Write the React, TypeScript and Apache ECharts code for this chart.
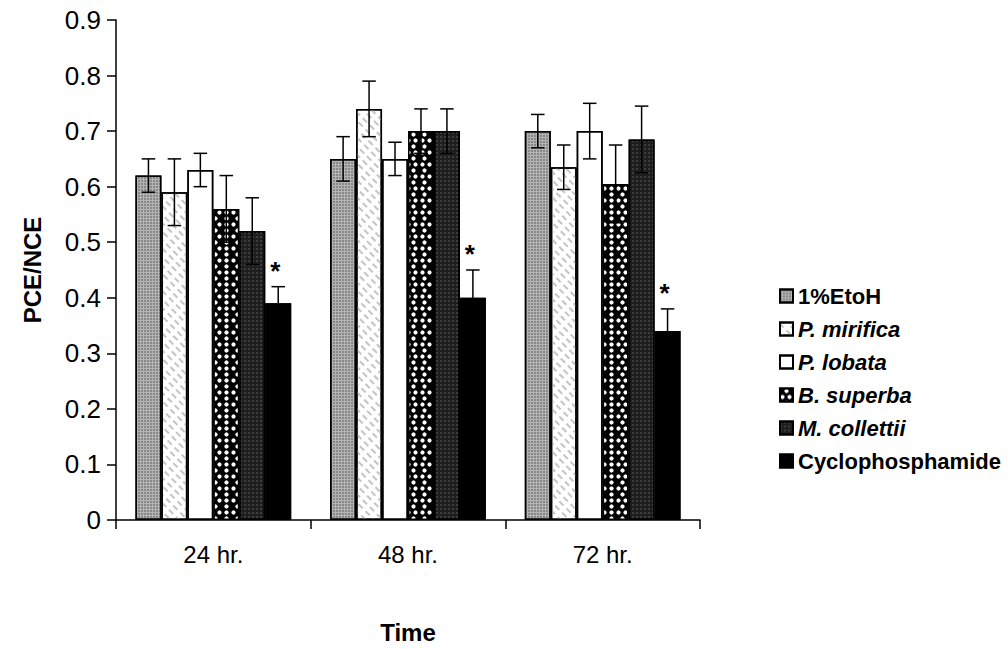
import React, { useEffect, useRef } from "react";
import * as echarts from "echarts";

const categories = ["24 hr.", "48 hr.", "72 hr."];
const seriesNames = ["1%EtoH", "P. mirifica", "P. lobata", "B. superba", "M. collettii", "Cyclophosphamide"];
const etoh = [0.62, 0.65, 0.70];
const mirifica = [0.59, 0.74, 0.635];
const lobata = [0.63, 0.65, 0.70];
const superba = [0.56, 0.70, 0.605];
const collettii = [0.52, 0.70, 0.685];
const cyclo = [0.39, 0.40, 0.34];
const etohErr = [0.03, 0.04, 0.03];
const mirificaErr = [0.06, 0.05, 0.04];
const lobataErr = [0.03, 0.03, 0.05];
const superbaErr = [0.06, 0.04, 0.07];
const collettiiErr = [0.06, 0.04, 0.06];
const cycloErr = [0.03, 0.05, 0.04];
const significance = ["*", "*", "*"];
const yTicks = [0, 0.1, 0.2, 0.3, 0.4, 0.5, 0.6, 0.7, 0.8, 0.9];

const values = [etoh, mirifica, lobata, superba, collettii, cyclo];
const errors = [etohErr, mirificaErr, lobataErr, superbaErr, collettiiErr, cycloErr];

const CAT_GAP = 0.2;
const FONT = "Liberation Sans, Arial, sans-serif";

const fills = ["#b4b4b4", "#ffffff", "#ffffff", "#000000", "#1e1e1e", "#000000"];
const decals: any[] = [
  { symbol: "circle", symbolSize: 0.8, color: "#6e6e6e", dashArrayX: [2, 1], dashArrayY: [2, 1], rotation: 0 },
  { symbol: "rect", symbolSize: 1, color: "#c4c4c4", dashArrayX: [[6, 4]], dashArrayY: [1.5, 4], rotation: Math.PI / 4 },
  { symbol: "none" },
  { symbol: "circle", symbolSize: 0.85, color: "#ffffff", dashArrayX: [[5, 2], [0, 3.5, 5, 2]], dashArrayY: [5, 1], rotation: 0 },
  { symbol: "circle", symbolSize: 0.7, color: "#6a6a6a", dashArrayX: [2, 2], dashArrayY: [2, 2], rotation: 0 },
  { symbol: "none" },
];

export default function App() {
  const ref = useRef<HTMLDivElement>(null);
  useEffect(() => {
    if (!ref.current) return;
    const chart = echarts.init(ref.current, undefined, { renderer: "svg" });

    const barSeries = seriesNames.map((name, i) => ({
      name,
      type: "bar",
      data: values[i],
      barGap: "0%",
      barCategoryGap: CAT_GAP * 100 + "%",
      itemStyle: { color: fills[i], borderColor: "#000", borderWidth: 1.5, decal: decals[i] },
      z: 2,
    }));

    const errSeries = seriesNames.map((name, i) => ({
      name,
      type: "custom",
      z: 5,
      silent: true,
      data: values[i].map((v, c) => [c, v, errors[i][c]]),
      renderItem: (params: any, api: any) => {
        const c = api.value(0);
        const v = api.value(1);
        const e = api.value(2);
        const star = i === 5 ? significance[c] : "";
        const catW = api.size([1, 0])[0];
        const barW = (catW * (1 - CAT_GAP)) / 6;
        const x = api.coord([c, 0])[0] + (i - 2.5) * barW;
        const top = api.coord([c, v + e])[1];
        const bot = api.coord([c, v - e])[1];
        const cap = barW * 0.26;
        const st = { stroke: "#000", lineWidth: 1.5 };
        const children: any[] = [
          { type: "line", shape: { x1: x, y1: top, x2: x, y2: bot }, style: st },
          { type: "line", shape: { x1: x - cap, y1: top, x2: x + cap, y2: top }, style: st },
          { type: "line", shape: { x1: x - cap, y1: bot, x2: x + cap, y2: bot }, style: st },
        ];
        if (star) {
          children.push({
            type: "text",
            style: { text: star, x: x - 3, y: top - 16, align: "center", verticalAlign: "middle", fontSize: 26, fontWeight: "bold", fontFamily: FONT, fill: "#000" },
          });
        }
        return { type: "group", children };
      },
    }));

    const italic = [false, true, true, true, true, false];

    chart.setOption({
      animation: false,
      aria: { enabled: true, decal: { show: true } },
      grid: { left: 116, top: 20, width: 584, height: 514, containLabel: false },
      legend: {
        orient: "vertical",
        left: 774,
        top: 280,
        itemGap: 11,
        itemWidth: 13,
        itemHeight: 13,
        icon: "rect",
        data: seriesNames,
        selectedMode: false,
        formatter: (n: string) => {
          const i = seriesNames.indexOf(n);
          return italic[i] ? "{it|" + n + "}" : "{nm|" + n + "}";
        },
        textStyle: {
          fontSize: 22,
          fontWeight: "bold",
          fontFamily: FONT,
          color: "#000",
          rich: {
            it: { fontSize: 22, fontWeight: "bold", fontStyle: "italic", fontFamily: FONT, color: "#000" },
            nm: { fontSize: 22, fontWeight: "bold", fontFamily: FONT, color: "#000" },
          },
        },
      },
      xAxis: {
        type: "category",
        data: categories,
        name: "Time",
        nameLocation: "middle",
        nameGap: 100,
        nameTextStyle: { fontSize: 24, fontWeight: "bold", fontFamily: FONT, color: "#000" },
        axisLine: { lineStyle: { color: "#000", width: 1.5 } },
        axisTick: { show: true, length: 9, lineStyle: { color: "#000", width: 1.5 } },
        axisLabel: { fontSize: 24, fontFamily: FONT, color: "#000", margin: 22 },
      },
      yAxis: {
        type: "value",
        min: 0,
        max: 0.9,
        interval: 0.1,
        name: "PCE/NCE",
        nameLocation: "middle",
        nameGap: 72,
        nameTextStyle: { fontSize: 24, fontWeight: "bold", fontFamily: FONT, color: "#000" },
        axisLine: { show: true, lineStyle: { color: "#000", width: 1.5 } },
        axisTick: { show: true, length: 9, lineStyle: { color: "#000", width: 1.5 } },
        splitLine: { show: false },
        axisLabel: {
          fontSize: 26,
          fontFamily: FONT,
          color: "#000",
          margin: 15,
          formatter: (v: number) => {
            const t = yTicks.find((k) => Math.abs(k - v) < 1e-9);
            return t === 0 ? "0" : (t ?? v).toFixed(1);
          },
        },
      },
      series: [...barSeries, ...errSeries],
    });
    return () => chart.dispose();
  }, []);
  return <div ref={ref} style={{ position: "fixed", left: 0, top: 0, width: 1008, height: 649, background: "#fff" }} />;
}
